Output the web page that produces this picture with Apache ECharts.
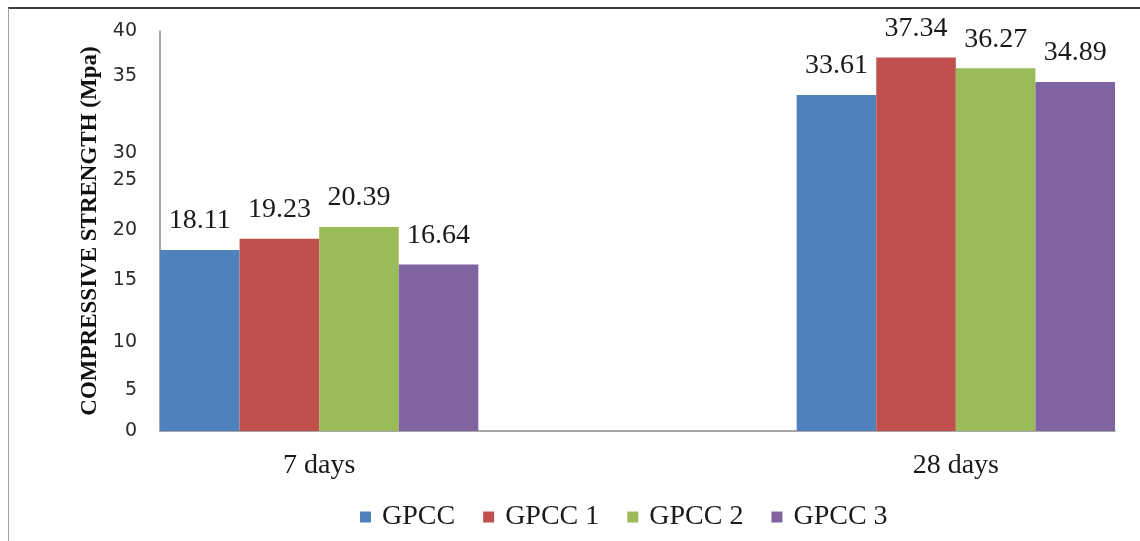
<!DOCTYPE html>
<html>
<head>
<meta charset="utf-8">
<script src="https://cdn.jsdelivr.net/npm/echarts@6/dist/echarts.min.js"></script>
<style>
  html, body { margin: 0; padding: 0; background: #fff; }
  #chart { position: absolute; left: 0; top: 0; width: 1140px; height: 541px; }
  #frame {
    position: absolute; left: 8px; top: 7px; width: 1200px; height: 600px;
    border-top: 2px solid #3c3c3c; border-left: 1px solid #a0a0a0;
    pointer-events: none;
  }
</style>
</head>
<body>
<div id="chart"></div>
<div id="frame"></div>
<script>
// Curing ages on the x axis
const categories = ['7 days', '28 days'];

// Compressive strength (MPa) per mix
const seriesNames = ['GPCC', 'GPCC 1', 'GPCC 2', 'GPCC 3'];
const gpcc  = [18.11, 33.61];
const gpcc1 = [19.23, 37.34];
const gpcc2 = [20.39, 36.27];
const gpcc3 = [16.64, 34.89];

// Y axis tick labels and the values where each one sits
const yTickLabels = ['0', '5', '10', '15', '20', '25', '30', '35', '40'];
const yTickValues = [0, 4.1, 8.9, 15.1, 20.1, 25.1, 27.8, 35.5, 40];

const colors = ['#4F81BD', '#C0504D', '#9BBB59', '#8064A2'];
const serif = '"Liberation Serif", "Times New Roman", serif';

// An empty slot between the two ages keeps the groups apart
const axisData = [categories[0], '', categories[1]];
const spread = arr => [arr[0], null, arr[1]];
const allValues = [gpcc, gpcc1, gpcc2, gpcc3];

const chart = echarts.init(document.getElementById('chart'), null, { renderer: 'canvas' });

chart.setOption({
  animation: false,
  color: colors,
  grid: { left: 160, right: 25, top: 31, bottom: 110, containLabel: false },
  legend: {
    left: 355,
    top: 498,
    icon: 'rect',
    itemWidth: 11,
    itemHeight: 11,
    itemGap: 28,
    textStyle: { fontFamily: serif, fontSize: 28, color: '#1a1a1a', padding: [0, 0, 0, 6] },
    data: seriesNames
  },
  xAxis: {
    type: 'category',
    data: axisData,
    boundaryGap: true,
    axisLine: { lineStyle: { color: '#8a8a8a', width: 1.5 } },
    axisTick: { show: false },
    axisLabel: { fontFamily: serif, fontSize: 28, color: '#1a1a1a', margin: 21, interval: 0 }
  },
  yAxis: {
    type: 'value',
    min: 0,
    max: 40,
    name: 'COMPRESSIVE STRENGTH (Mpa)',
    nameLocation: 'middle',
    nameRotate: 90,
    nameGap: 57,
    nameTextStyle: { fontFamily: serif, fontSize: 23, fontWeight: 'bold', color: '#111' },
    splitLine: { show: false },
    axisLine: { show: true, lineStyle: { color: '#8a8a8a', width: 1.5 } },
    axisTick: { show: false },
    axisLabel: {
      customValues: yTickValues,
      fontFamily: '"DejaVu Sans", sans-serif',
      fontSize: 19,
      color: '#2a2a2a',
      margin: 23,
      formatter: function (v) {
        let best = 0;
        yTickValues.forEach((t, i) => {
          if (Math.abs(t - v) < Math.abs(yTickValues[best] - v)) best = i;
        });
        return yTickLabels[best];
      }
    }
  },
  series: seriesNames.map((name, i) => ({
    name: name,
    type: 'bar',
    barGap: 0,
    barCategoryGap: 0,
    data: spread(allValues[i]),
    itemStyle: { color: colors[i] },
    label: {
      show: true,
      position: 'top',
      distance: 15,
      fontFamily: serif,
      fontSize: 28,
      color: '#1a1a1a',
      formatter: p => p.value.toFixed(2)
    }
  }))
});
</script>
</body>
</html>
